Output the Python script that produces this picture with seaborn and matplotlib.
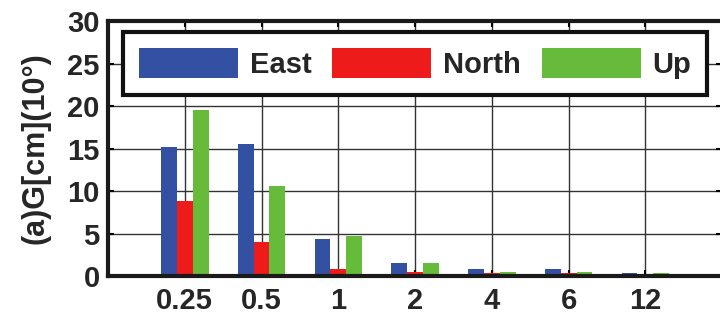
import matplotlib
matplotlib.use("Agg")
import matplotlib.pyplot as plt
import seaborn as sns
import pandas as pd

# Time spans (categories) and the three component values
spans = ["0.25", "0.5", "1", "2", "4", "6", "12"]
east = [15.2, 15.5, 4.3, 1.5, 0.8, 0.8, 0.35]
north = [8.8, 4.0, 0.8, 0.5, 0.4, 0.4, 0.1]
up = [19.5, 10.6, 4.7, 1.5, 0.5, 0.5, 0.4]
components = ["East", "North", "Up"]
colors = ["#3450A2", "#EE1B1B", "#67BB3A"]
y_ticks = [0, 5, 10, 15, 20, 25, 30]

df = pd.DataFrame({
    "span": spans * 3,
    "value": east + north + up,
    "component": sum([[c] * len(spans) for c in components], []),
})

sns.set_theme(style="white")
plt.rcParams["font.family"] = ["Liberation Sans", "DejaVu Sans"]
plt.rcParams["font.weight"] = "bold"

fig = plt.figure(figsize=(7.2, 3.24), dpi=100)
ax = fig.add_axes([0.15, 0.148, 0.853, 0.787])

sns.barplot(data=df, x="span", y="value", hue="component", order=spans,
            hue_order=components, palette=colors, width=0.62, ax=ax,
            edgecolor="none", saturation=1)

ax.set_xlim(-1, 7)
ax.set_ylim(0, 30)
ax.set_yticks(y_ticks)
ax.set_yticklabels([str(v) for v in y_ticks], fontsize=21, fontweight="bold")
ax.set_xticks(range(len(spans)))
ax.set_xticklabels(spans, fontsize=21, fontweight="bold")
ax.set_xlabel("")
ax.set_ylabel("(a)G[cm](10°)", fontsize=22, fontweight="bold", labelpad=12)

ax.grid(True, color="#333333", linewidth=1.0)
ax.set_axisbelow(True)
ax.tick_params(direction="in", length=4, width=1.5, color="black",
               top=True, right=True, bottom=True, left=True, pad=6)
ax.tick_params(axis="x", pad=8)
for side in ["left", "right", "top", "bottom"]:
    ax.spines[side].set_color("#1a1a1a")
    ax.spines[side].set_linewidth(3)

leg = ax.legend(loc="lower left", bbox_to_anchor=(0.024, 0.71, 0.952, 0.255),
                mode="expand", ncol=3, frameon=True,
                fancybox=False, handlelength=3.4, handleheight=1.2,
                handletextpad=0.4, borderaxespad=0, borderpad=0.55,
                prop={"weight": "bold", "size": 21})
leg.get_frame().set_edgecolor("#111111")
leg.get_frame().set_linewidth(3)
leg.get_frame().set_alpha(1)

fig.savefig("out.png", dpi=100)
